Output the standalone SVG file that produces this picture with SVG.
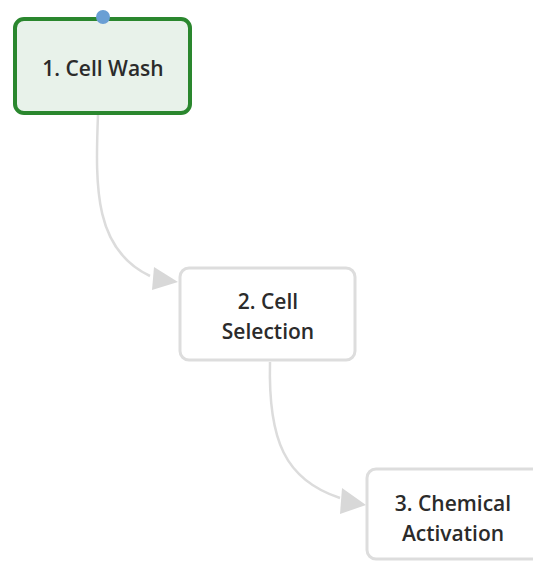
<svg xmlns="http://www.w3.org/2000/svg" width="533" height="561" viewBox="0 0 533 561">
<style>
.t{font-family:"Open Sans","Noto Sans",sans-serif;font-size:21px;font-weight:600;fill:#2b2b2b;text-anchor:middle}
.box{fill:#fff;stroke:#dddddd;stroke-width:3}
.edge{fill:none;stroke:#dcdcdc;stroke-width:2.5}
</style>
<rect width="533" height="561" fill="#fff"/>
<g id="connectors">
<path class="edge" d="M98,115 C95,190 95,250 150,276" />
<path d="M154,267 L178,282 L152,290 z" fill="#d8d8d8"/>
<path class="edge" d="M270,362 C268,440 285,480 340,498" />
<path d="M342,488 L366,505 L340,514 z" fill="#d8d8d8"/>
</g>
<g id="node1">
<rect x="15" y="19" width="175" height="94" rx="9" fill="#e8f2ea" stroke="#2a872e" stroke-width="4"/>
<text class="t" x="103" y="76">1. Cell Wash</text>
<circle cx="103" cy="17" r="7" fill="#6a9fd4"/>
</g>
<g id="node2">
<rect class="box" x="180" y="268" width="175" height="92" rx="9"/>
<text class="t" x="268" y="309">2. Cell</text>
<text class="t" x="268" y="339">Selection</text>
</g>
<g id="node3">
<rect class="box" x="367" y="469" width="175" height="90" rx="9"/>
<text class="t" x="453" y="511">3. Chemical</text>
<text class="t" x="453" y="541">Activation</text>
</g>
</svg>
